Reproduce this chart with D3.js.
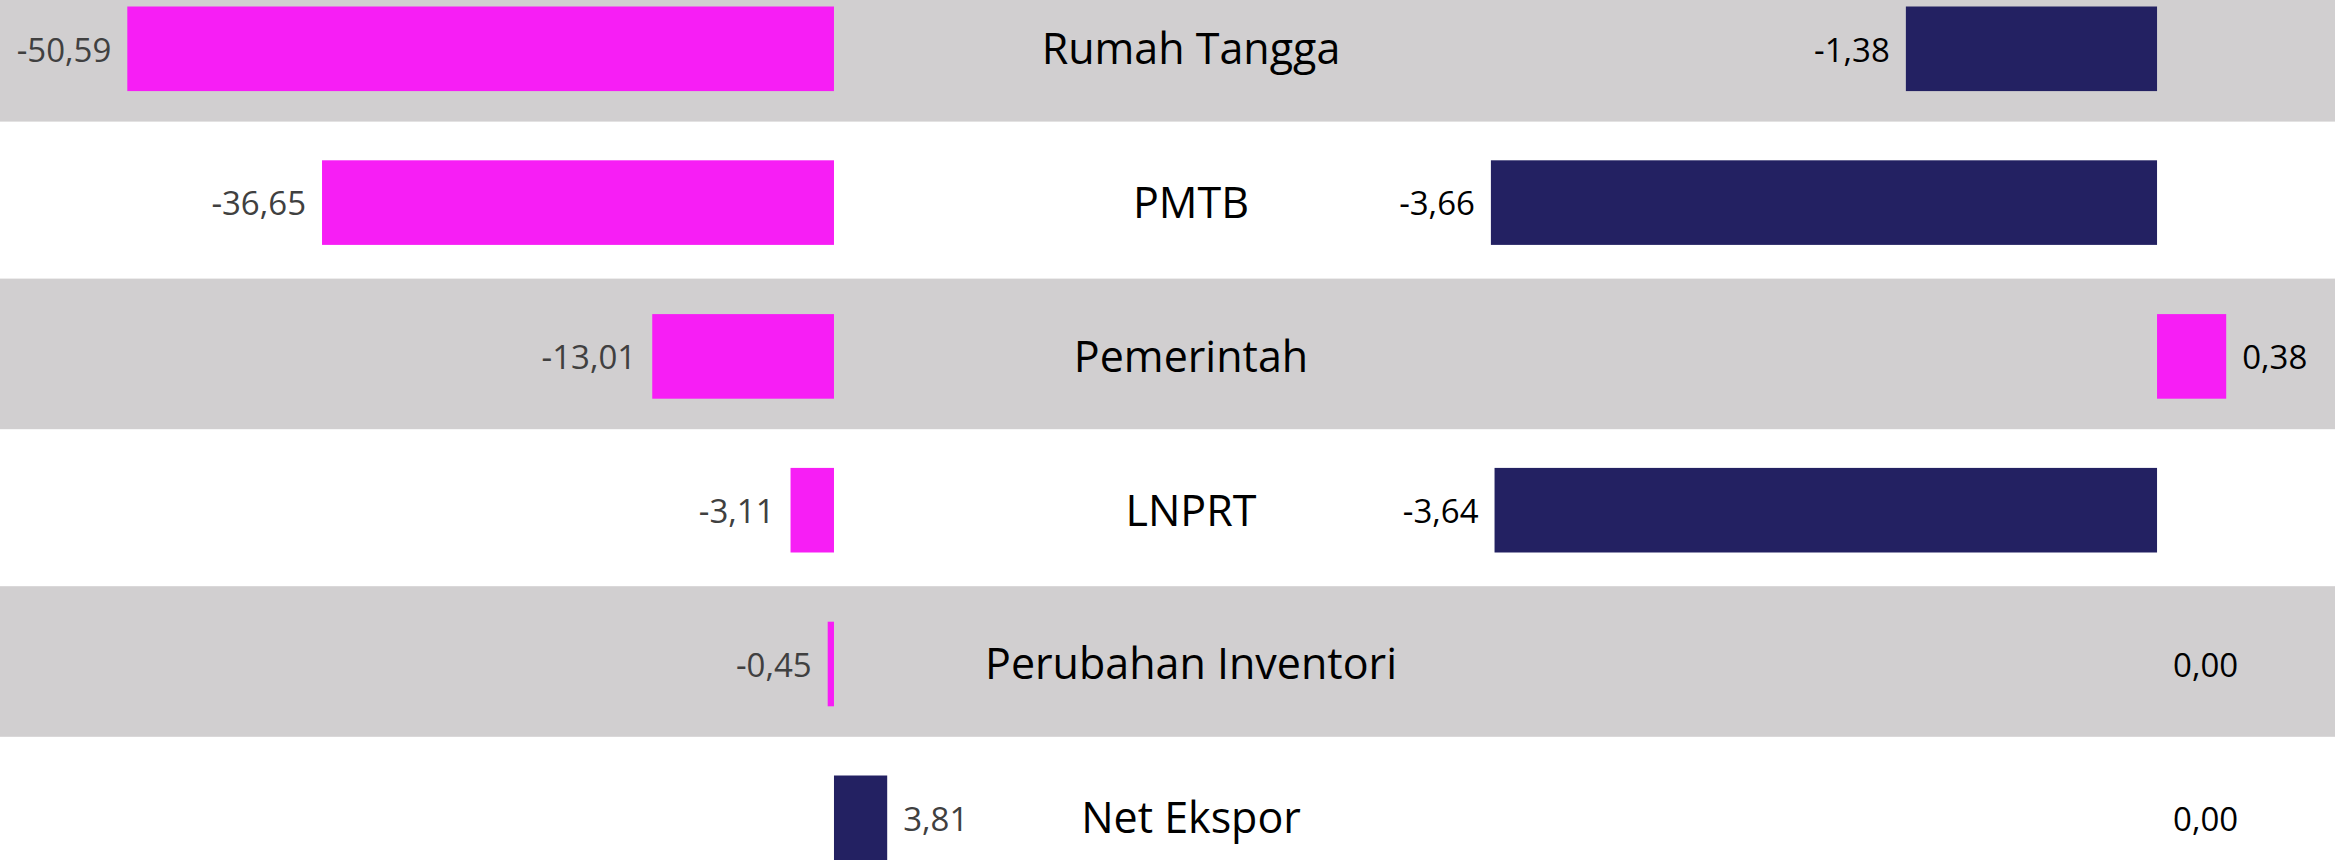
<!DOCTYPE html>
<html>
<head>
<meta charset="utf-8">
<script src="https://cdn.jsdelivr.net/npm/d3@7"></script>
<style>
  html, body { margin: 0; padding: 0; background: #ffffff; overflow: hidden; }
  svg { display: block; }
</style>
</head>
<body>
<svg id="chart" width="2335" height="860"></svg>
<script>
// ---- data ----
const categories = ["Rumah Tangga", "PMTB", "Pemerintah", "LNPRT", "Perubahan Inventori", "Net Ekspor"];
const leftValues  = [-50.59, -36.65, -13.01, -3.11, -0.45, 3.81];
const rightValues = [-1.38, -3.66, 0.38, -3.64, 0.00, 0.00];
const leftLabels  = ["-50,59", "-36,65", "-13,01", "-3,11", "-0,45", "3,81"];
const rightLabels = ["-1,38", "-3,66", "0,38", "-3,64", "0,00", "0,00"];

// ---- style ----
const W = 2335, H = 860;
const PINK = "#f71ef5", NAVY = "#232162", GREY = "#d1cfd0";
const svg = d3.select("#chart");

const step = 153.8;
const y = d3.scaleBand()
  .domain(categories)
  .range([48.8 - step / 2, 48.8 - step / 2 + step * categories.length])
  .paddingInner(0.45)
  .paddingOuter(0.225);

const xL = d3.scaleLinear().domain([-50.59, 3.81]).range([127.3, 887.2]);
const xR = d3.scaleLinear().domain([-3.66, 0.38]).range([1490.9, 2226.2]);

// alternating grey bands
svg.append("g").selectAll("rect")
  .data(categories.filter((d, i) => i % 2 === 0))
  .join("rect")
  .attr("x", 0)
  .attr("width", W)
  .attr("y", d => y(d) + y.bandwidth() / 2 - 2.5 - 75.3)
  .attr("height", 150.6)
  .attr("fill", GREY);

function side(values, labels, x, posColor, negColor, labelColor) {
  const g = svg.append("g");
  const rows = categories.map((c, i) => ({ c, v: values[i], t: labels[i] }));
  g.selectAll("rect")
    .data(rows.filter(d => d.v !== 0))
    .join("rect")
    .attr("x", d => Math.min(x(0), x(d.v)))
    .attr("width", d => Math.abs(x(d.v) - x(0)))
    .attr("y", d => y(d.c))
    .attr("height", y.bandwidth())
    .attr("fill", d => d.v < 0 ? negColor : posColor);
  g.selectAll("text")
    .data(rows)
    .join("text")
    .attr("x", d => d.v < 0 ? x(d.v) - 16 : x(d.v) + 16)
    .attr("y", d => y(d.c) + y.bandwidth() / 2 + 12.8)
    .attr("text-anchor", d => d.v < 0 ? "end" : "start")
    .attr("font-family", "'Open Sans', sans-serif")
    .attr("font-size", 33)
    .attr("fill", labelColor)
    .text(d => d.t);
}

side(leftValues, leftLabels, xL, NAVY, PINK, "#404040");
side(rightValues, rightLabels, xR, PINK, NAVY, "#000000");

// category labels
svg.append("g").selectAll("text")
  .data(categories)
  .join("text")
  .attr("x", 1191)
  .attr("y", d => y(d) + y.bandwidth() / 2 + 15.4)
  .attr("text-anchor", "middle")
  .attr("font-family", "'Open Sans', sans-serif")
  .attr("font-size", 43)
  .attr("fill", "#000000")
  .text(d => d);
</script>
</body>
</html>
